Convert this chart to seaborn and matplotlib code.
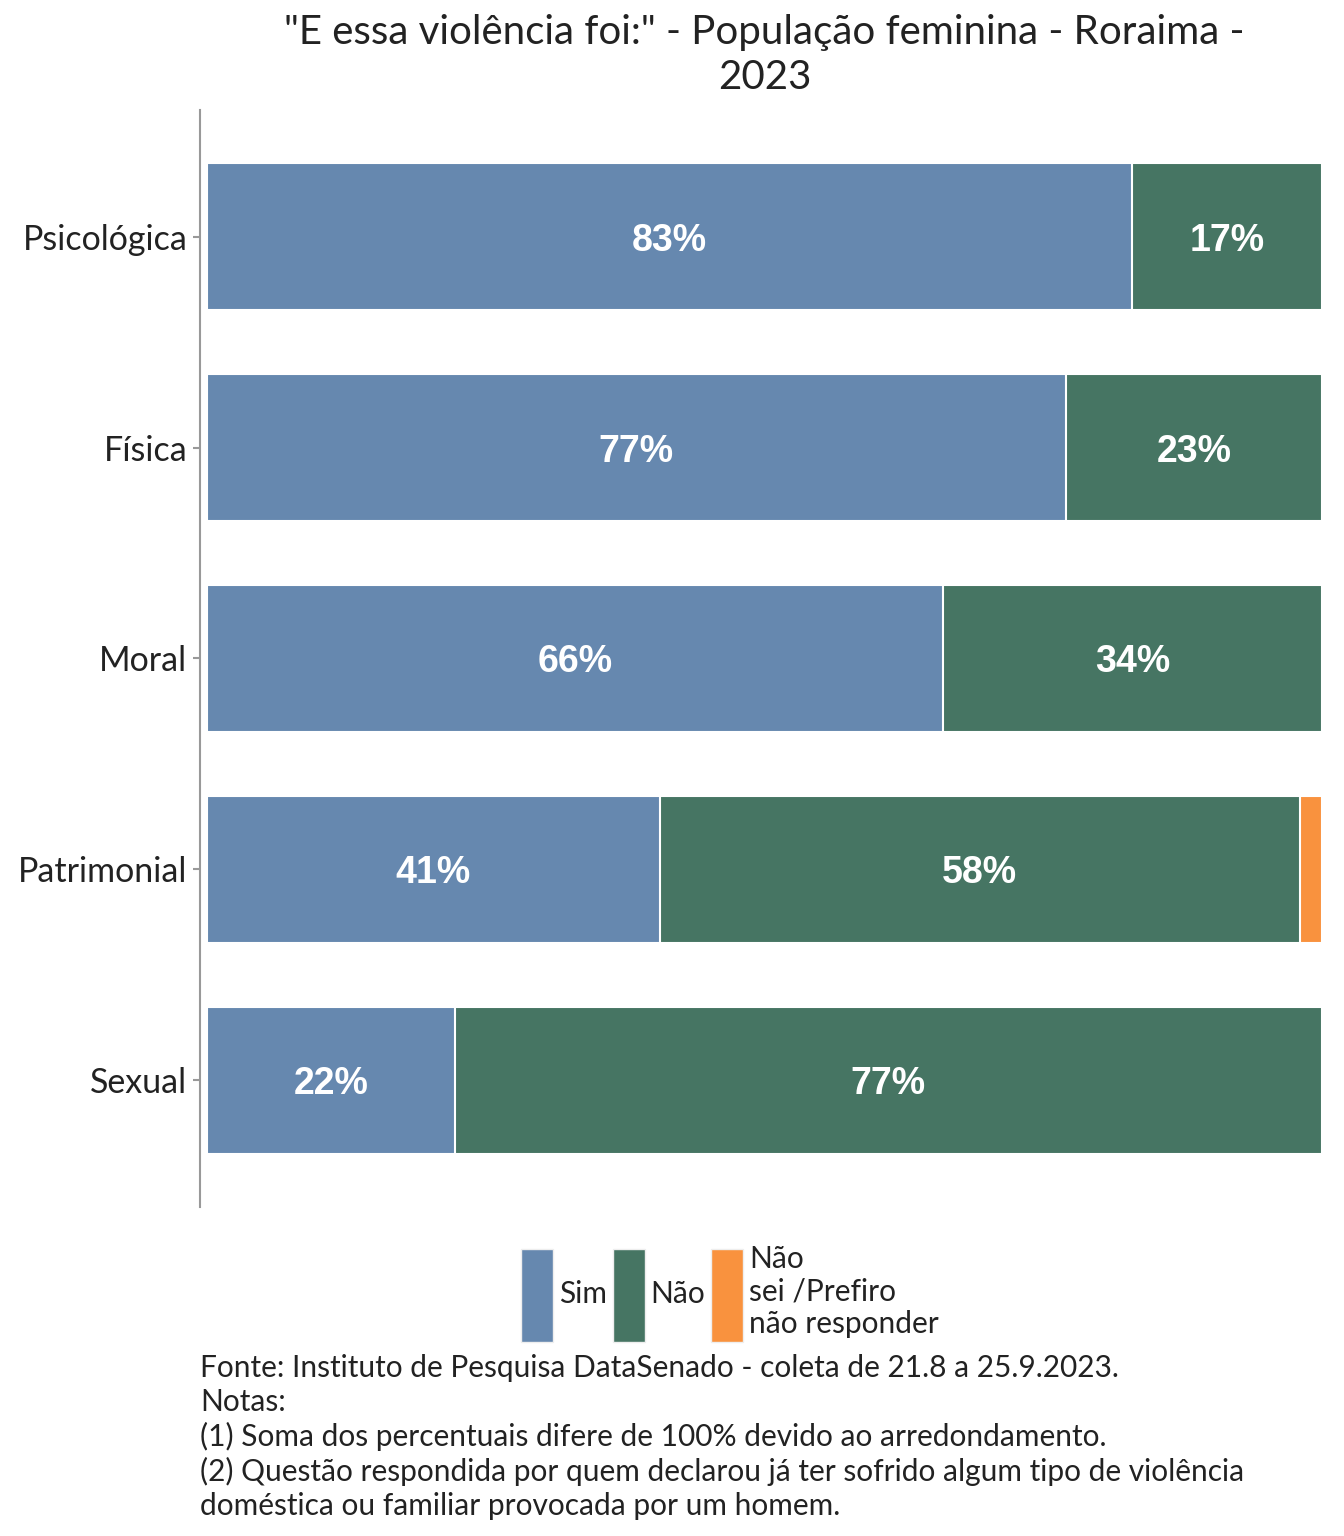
import numpy as np
import pandas as pd
import matplotlib
matplotlib.use("Agg")
import matplotlib.pyplot as plt
import seaborn as sns
from matplotlib.patches import Patch

categorias = ["Psicológica", "Física", "Moral", "Patrimonial", "Sexual"]
sim = [83, 77, 66, 41, 22]
nao = [17, 23, 34, 58, 77]
nao_sei = [0, 0, 0, 2, 0]
respostas = ["Sim", "Não", "Não\nsei /Prefiro\nnão responder"]
cores = ["#6688AF", "#467563", "#F9923E"]

df = pd.DataFrame({"cat": categorias, "Sim": sim, "Nao": nao, "NS": nao_sei})
total = df[["Sim", "Nao", "NS"]].sum(axis=1)
# shares of the row, bars are filled to 100%
df["p_sim"] = df["Sim"] / total * 100
df["p_nao"] = df["Nao"] / total * 100
df["p_ns"] = df["NS"] / total * 100
df["c1"] = df["p_sim"]
df["c2"] = df["p_sim"] + df["p_nao"]
df["c3"] = df["c2"] + df["p_ns"]

sns.set_theme(style="white")
plt.rcParams["font.family"] = ["Lato", "DejaVu Sans"]

fig = plt.figure(figsize=(13.44, 15.36), dpi=100)
ax = fig.add_axes([200 / 1344, 1 - 1207 / 1536, 1122 / 1344, 1097 / 1536])

for col, cor in zip(["c3", "c2", "c1"], cores[::-1]):
    sns.barplot(data=df, x=col, y="cat", color=cor, orient="h", width=0.7,
                edgecolor="white", linewidth=1.5, ax=ax, saturation=1)

for i, row in df.iterrows():
    segs = [(0, row["p_sim"], row["Sim"]), (row["c1"], row["p_nao"], row["Nao"]),
            (row["c2"], row["p_ns"], row["NS"])]
    for left, w, v in segs:
        if w >= 5:
            ax.text(left + w / 2, i, f"{v}%", ha="center", va="center_baseline", color="white",
                    fontsize=27, fontweight="bold", family="Liberation Sans")

ax.set_xlim(-0.63, 100)
ax.set_ylim(4.6, -0.6)
ax.set_xlabel("")
ax.set_ylabel("")
ax.set_xticks([])
for s in ["top", "right", "bottom"]:
    ax.spines[s].set_visible(False)
ax.spines["left"].set_color("#999999")
ax.spines["left"].set_linewidth(1.5)
ax.tick_params(axis="y", left=True, length=5, width=1.5, color="#999999",
               labelsize=24.5, labelcolor="#222222", pad=4)

fig.text(0.569, 0.991, "\"E essa violência foi:\" - População feminina - Roraima -\n2023",
         ha="center", va="top", fontsize=29, color="#222222", linespacing=1.27)

handles = [Patch(facecolor=c, edgecolor="#eeeeee", linewidth=1) for c in cores]
fig.legend(handles, respostas, loc="center", bbox_to_anchor=(0.543, 0.158), ncol=3,
           frameon=False, fontsize=21.5, handlelength=1.07, handleheight=4.4,
           handletextpad=0.2, columnspacing=0.2, labelcolor="#222222", labelspacing=0.3)

nota = ("Fonte: Instituto de Pesquisa DataSenado - coleta de 21.8 a 25.9.2023.\n"
        "Notas:\n"
        "(1) Soma dos percentuais difere de 100% devido ao arredondamento.\n"
        "(2) Questão respondida por quem declarou já ter sofrido algum tipo de violência\n"
        "doméstica ou familiar provocada por um homem.")
fig.text(200 / 1344, 1 - 1354 / 1536, nota, ha="left", va="top", fontsize=21.5,
         color="#222222", linespacing=1.25)

fig.savefig("out.png", dpi=100)
